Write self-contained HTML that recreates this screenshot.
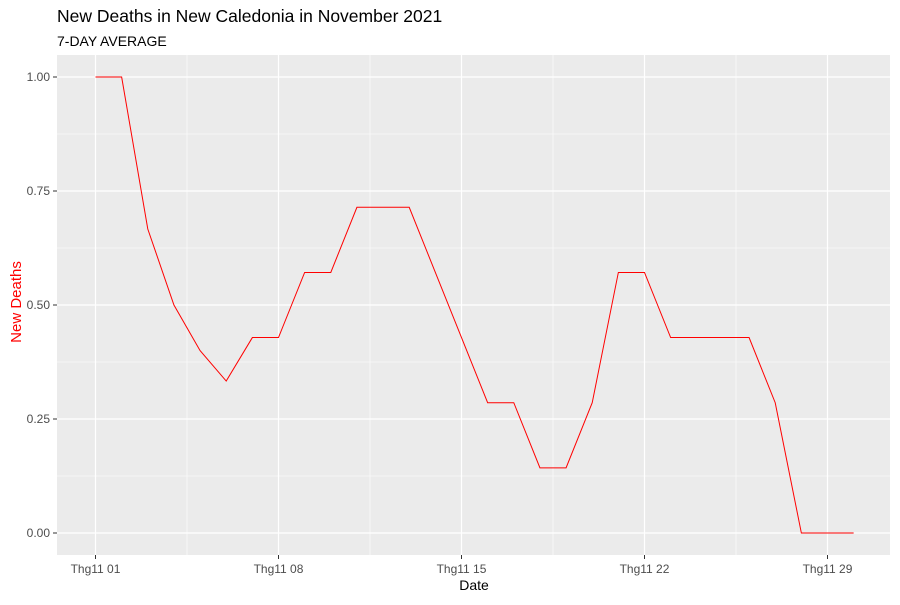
<!DOCTYPE html>
<html><head><meta charset="utf-8"><style>
body{margin:0;background:#fff;font-family:"Liberation Sans",Arial,sans-serif}
</style></head><body>
<svg id="chart" width="900" height="600">
<text x="57" y="22" font-size="17.5" fill="#000">New Deaths in New Caledonia in November 2021</text>
<text x="57" y="46" font-size="14" fill="#000">7-DAY AVERAGE</text>
<rect x="57" y="55" width="833" height="500" fill="#ebebeb"/>
<g id="grid"></g>
<g id="axes"></g>
<path id="line" fill="none" stroke="#ff0000" stroke-width="1"/>
<text x="474" y="590" font-size="14" text-anchor="middle">Date</text>
<text transform="translate(21,302) rotate(-90)" font-size="15" fill="#ff0000" text-anchor="middle">New Deaths</text>
</svg>
<script>
const days = [1,2,3,4,5,6,7,8,9,10,11,12,13,14,15,16,17,18,19,20,21,22,23,24,25,26,27,28,29,30];
const deaths = [1,1,0.6667,0.5,0.4,0.3333,0.4286,0.4286,0.5714,0.5714,0.7143,0.7143,0.7143,0.5714,0.4286,0.2857,0.2857,0.1429,0.1429,0.2857,0.5714,0.5714,0.4286,0.4286,0.4286,0.4286,0.2857,0,0,0];
const yTicks = [0,0.25,0.5,0.75,1];
const yLabels = ["0.00","0.25","0.50","0.75","1.00"];
const xTicks = [1,8,15,22,29];
const xLabels = ["Thg11 01","Thg11 08","Thg11 15","Thg11 22","Thg11 29"];
const NS="http://www.w3.org/2000/svg";
const xs = d => 95.5 + (d-1)*(183/7);
const ys = v => 533 - v*456;
const grid=document.getElementById('grid'), axes=document.getElementById('axes');
function ln(g,x1,y1,x2,y2,c,w){const l=document.createElementNS(NS,'line');l.setAttribute('x1',x1);l.setAttribute('y1',y1);l.setAttribute('x2',x2);l.setAttribute('y2',y2);l.setAttribute('stroke',c);l.setAttribute('stroke-width',w);g.appendChild(l);return l;}
function tx(g,x,y,s,a){const t=document.createElementNS(NS,'text');t.setAttribute('x',x);t.setAttribute('y',y);t.setAttribute('font-size','12');t.setAttribute('fill','#4d4d4d');t.setAttribute('text-anchor',a);t.textContent=s;g.appendChild(t);return t;}
for(let i=0;i<yTicks.length-1;i++){const m=ln(grid,57,ys((yTicks[i]+yTicks[i+1])/2),890,ys((yTicks[i]+yTicks[i+1])/2),'#fff',0.6);

}
for(let i=0;i<xTicks.length;i++){const m=ln(grid,xs(xTicks[i]+3.5),55,xs(xTicks[i]+3.5),555,'#fff',0.6);

}
yTicks.forEach((v,i)=>{const g=ln(grid,57,ys(v),890,ys(v),'#fff',1.2);


ln(axes,53,ys(v),57,ys(v),'#333',1);
const t=tx(axes,50,ys(v)+4,yLabels[i],'end');

});
xTicks.forEach((d,i)=>{const g=ln(grid,xs(d),55,xs(d),555,'#fff',1.2);


ln(axes,xs(d),555,xs(d),559,'#333',1);
const t=tx(axes,xs(d),573,xLabels[i],'middle');

});
document.getElementById('line').setAttribute('d',days.map((d,i)=>(i?'L':'M')+xs(d)+','+ys(deaths[i])).join(''));
</script>
</body></html>
